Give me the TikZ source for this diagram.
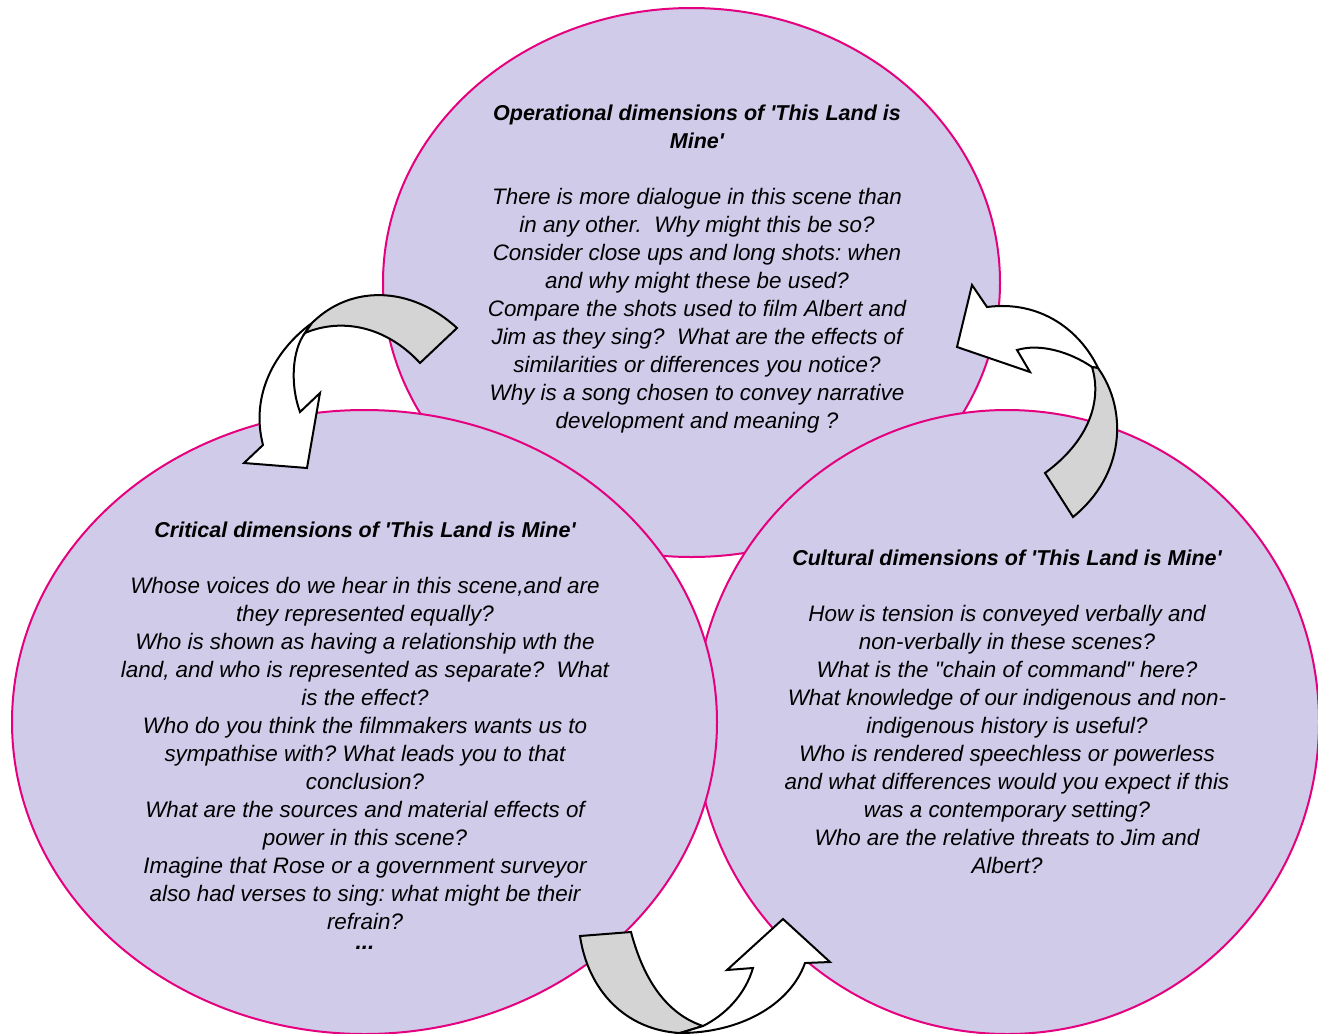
\documentclass[tikz,border=0pt]{standalone}
\usepackage{fontspec}
\setmainfont{Liberation Sans}[Ligatures=TeXOff]
\definecolor{dimfill}{RGB}{207,203,232}
\definecolor{dimline}{RGB}{228,0,127}
\definecolor{bandgrey}{RGB}{212,212,212}
\newcommand{\dimhead}[1]{{\fontsize{10.75}{14}\selectfont\bfseries #1}}
\tikzset{
  dimshape/.style={draw=dimline, fill=dimfill, line width=1pt},
  dimtext/.style={align=center, inner sep=0pt, anchor=north,
                  font=\fontsize{11.2}{14}\selectfont\itshape\frenchspacing},
  frontband/.style={draw=black, fill=white, line width=1pt, line join=miter},
  backband/.style={draw=black, fill=bandgrey, line width=1pt, line join=miter},
}

\begin{document}
\begin{tikzpicture}[x=0.5pt, y=-0.5pt]
  \useasboundingbox (0,0) rectangle (1318,1034);

  % the three dimensions
  \draw[dimshape] (691.5,282.5) ellipse [x radius=308.5, y radius=274.5];
  \draw[dimshape] (1007,722) ellipse [x radius=312, y radius=312];
  \draw[dimshape] (364.5,722) ellipse [x radius=352.5, y radius=312];

  \node[dimtext] (opertext) at (697,105) {%
    \dimhead{Operational dimensions of 'This Land is}\\
    \dimhead{Mine'}\\[14pt]
    There is more dialogue in this scene than\\
    in any other.~ Why might this be so?\\
    Consider close ups and long shots: when\\
    and why might these be used?\\
    Compare the shots used to film Albert and\\
    Jim as they sing?~ What are the effects of\\
    similarities or differences you notice?\\
    Why is a song chosen to convey narrative\\
    development and meaning ?};

  \node[dimtext] (crittext) at (365,522) {%
    \dimhead{Critical dimensions of 'This Land is Mine'}\\[14pt]
    Whose voices do we hear in this scene,and are\\
    they represented equally?\\
    Who is shown as having a relationship wth the\\
    land, and who is represented as separate?~ What\\
    is the effect?\\
    Who do you think the filmmakers wants us to\\
    sympathise with? What leads you to that\\
    conclusion?\\
    What are the sources and material effects of\\
    power in this scene?\\
    Imagine that Rose or a government surveyor\\
    also had verses to sing: what might be their\\
    refrain?\\[-4pt]
    \textbf{...}};

  \node[dimtext] (culttext) at (1007,550) {%
    \dimhead{Cultural dimensions of 'This Land is Mine'}\\[14pt]
    How is tension is conveyed verbally and\\
    non-verbally in these scenes?\\
    What is the "chain of command" here?\\
    What knowledge of our indigenous and non-\\
    indigenous history is useful?\\
    Who is rendered speechless or powerless\\
    and what differences would you expect if this\\
    was a contemporary setting?\\
    Who are the relative threats to Jim and\\
    Albert?};

  % curved arrows between them
  \draw[frontband] (312,323) .. controls (275,350) and (250,395) .. (263,445)
    -- (244,463) -- (307,468) -- (320,393) -- (300,412)
    .. controls (290,385) and (292,350) .. (305,333) -- cycle;
  \draw[backband] (312,323) .. controls (350,285) and (410,285) .. (457,328)
    -- (420,363) .. controls (385,325) and (340,318) .. (305,333) -- cycle;

  \draw[frontband] (972,285) -- (987,307)
    .. controls (1040,300) and (1080,330) .. (1098,368) -- (1092,367)
    .. controls (1070,352) and (1040,343) .. (1017,350)
    -- (1030,372) -- (957,347) -- cycle;
  \draw[backband] (1098,368) .. controls (1128,410) and (1125,475) .. (1073,517)
    -- (1045,473) .. controls (1090,440) and (1102,400) .. (1092,367) -- cycle;

  \draw[backband] (580,936) -- (631,932)
    .. controls (645,985) and (670,1015) .. (703,1026) -- (680,1033)
    .. controls (625,1030) and (588,990) .. (580,936) -- cycle;
  \draw[frontband] (680,1033) .. controls (740,1033) and (790,1005) .. (805,963)
    -- (830,962) -- (783,919) -- (727,970) -- (753,968)
    .. controls (745,995) and (725,1015) .. (703,1026) -- cycle;
\end{tikzpicture}
\end{document}
